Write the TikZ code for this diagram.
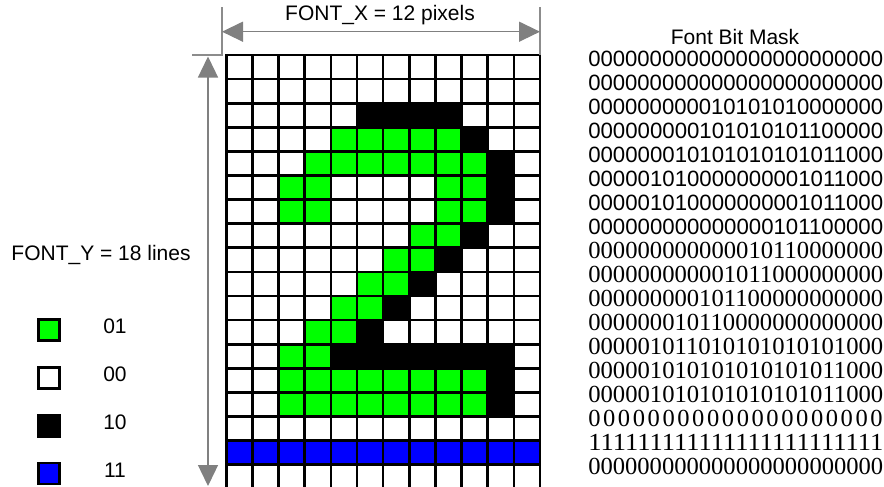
\documentclass[tikz,border=0pt]{standalone}
\usepackage{fontspec}
\setmainfont{Liberation Sans}
\newfontfamily\maskserif{Liberation Serif}
\usetikzlibrary{arrows.meta}
\definecolor{pixgreen}{RGB}{0,255,0}
\definecolor{pixblue}{RGB}{0,0,255}
\definecolor{dimgray}{RGB}{128,128,128}
\definecolor{extgray}{RGB}{140,140,140}
\newcommand\gx{226.3}
\newcommand\gw{26.14}
\newcommand\gy{55}
\newcommand\gh{24.1}
\newcommand\pixrun[4]{\fill[#4] ({\gx+(#2-1)*\gw},{\gy+(#1-1)*\gh}) rectangle ({\gx+#3*\gw},{\gy+#1*\gh});}
\newcommand\labfont{\fontsize{15.75pt}{18pt}\selectfont}
\newcommand\masksans{\fontsize{16.6pt}{18pt}\selectfont}
\newcommand\maskser{\maskserif\fontsize{18.4pt}{20pt}\selectfont}
\newcommand\fitline[1]{\resizebox{221.25pt}{\height}{#1}}
\begin{document}
\begin{tikzpicture}[x=0.75pt,y=-0.75pt,
  gridline/.style={line width=2pt, black, line cap=rect},
  dimarrow/.style={draw=dimgray, line width=1pt,
    {Triangle[length=15.75pt,width=15pt]}-{Triangle[length=15.75pt,width=15pt]}},
  extline/.style={draw=extgray, line width=1pt},
  legbox/.style={draw=black, line width=2pt, minimum size=15.75pt, inner sep=0pt},
  lab/.style={font=\labfont, inner sep=0pt},
  msans/.style={font=\masksans, inner sep=0pt, anchor=base west},
  mser/.style={font=\maskser, inner sep=0pt, anchor=base west}]
\useasboundingbox (0,0) rectangle (884,486);
\clip (0,0) rectangle (884,486);

% pixel fills
\pixrun{3}{6}{9}{black}
\pixrun{4}{5}{9}{pixgreen}\pixrun{4}{10}{10}{black}
\pixrun{5}{4}{10}{pixgreen}\pixrun{5}{11}{11}{black}
\pixrun{6}{3}{4}{pixgreen}\pixrun{6}{9}{10}{pixgreen}\pixrun{6}{11}{11}{black}
\pixrun{7}{3}{4}{pixgreen}\pixrun{7}{9}{10}{pixgreen}\pixrun{7}{11}{11}{black}
\pixrun{8}{8}{9}{pixgreen}\pixrun{8}{10}{10}{black}
\pixrun{9}{7}{8}{pixgreen}\pixrun{9}{9}{9}{black}
\pixrun{10}{6}{7}{pixgreen}\pixrun{10}{8}{8}{black}
\pixrun{11}{5}{6}{pixgreen}\pixrun{11}{7}{7}{black}
\pixrun{12}{4}{5}{pixgreen}\pixrun{12}{6}{6}{black}
\pixrun{13}{3}{4}{pixgreen}\pixrun{13}{5}{11}{black}
\pixrun{14}{3}{10}{pixgreen}\pixrun{14}{11}{11}{black}
\pixrun{15}{3}{10}{pixgreen}\pixrun{15}{11}{11}{black}
\pixrun{17}{1}{12}{pixblue}

% grid lines
\foreach \i in {0,...,12}
  \draw[gridline] ({\gx+\i*\gw},\gy) -- ({\gx+\i*\gw},{\gy+18*\gh});
\foreach \j in {0,...,18}
  \draw[gridline] (\gx,{\gy+\j*\gh}) -- ({\gx+12*\gw},{\gy+\j*\gh});

% dimension lines
\coordinate (xl) at (222,31.7);
\coordinate (xr) at (540,31.7);
\coordinate (exlt) at (222,7);
\coordinate (exlb) at (222,55);
\coordinate (exll) at (192,55);
\coordinate (exrt) at (540,7);
\coordinate (exrb) at (540,55);
\coordinate (yt) at (208,56.5);
\coordinate (yb) at (208,486);
\draw[extline] (exlt) -- (exlb) -- (exll);
\draw[extline] (exrt) -- (exrb);
\draw[dimarrow] (xl) -- (xr);
\draw[dimarrow] (yt) -- (yb);

\node[lab, anchor=base] (fontx) at (380,20.7) {FONT\_X = 12 pixels};
\node[lab, anchor=base] (fonty) at (101,260) {FONT\_Y = 18 lines};

% legend
\node[legbox, fill=pixgreen] (lg1) at (49,330) {};
\node[legbox, fill=white] (lg2) at (49,378) {};
\node[legbox, fill=black] (lg3) at (49,426) {};
\node[legbox, fill=pixblue] (lg4) at (49,473.5) {};
\node[lab, anchor=base] (lt1) at (115,333) {01};
\node[lab, anchor=base] (lt2) at (115,381) {00};
\node[lab, anchor=base] (lt3) at (115,429) {10};
\node[lab, anchor=base] (lt4) at (115,477) {11};

% bit mask
\node[lab, anchor=base] (mtitle) at (735,44) {Font Bit Mask};
\node[msans] (m1) at (588,66) {\fitline{000000000000000000000000}};
\node[msans] (m2) at (588,90) {\fitline{000000000000000000000000}};
\node[msans] (m3) at (588,114) {\fitline{000000000010101010000000}};
\node[msans] (m4) at (588,138) {\fitline{000000000101010101100000}};
\node[msans] (m5) at (588,162) {\fitline{000000010101010101011000}};
\node[msans] (m6) at (588,186) {\fitline{000001010000000001011000}};
\node[msans] (m7) at (588,210) {\fitline{000001010000000001011000}};
\node[msans] (m8) at (588,234) {\fitline{000000000000000101100000}};
\node[mser] (m9) at (588,258) {\fitline{000000000000010110000000}};
\node[mser] (m10) at (588,282) {\fitline{000000000001011000000000}};
\node[mser] (m11) at (588,306) {\fitline{000000000101100000000000}};
\node[mser] (m12) at (588,330) {\fitline{000000010110000000000000}};
\node[mser] (m13) at (588,354) {\fitline{000001011010101010101000}};
\node[mser] (m14) at (588,378) {\fitline{000001010101010101011000}};
\node[mser] (m15) at (588,402) {\fitline{000001010101010101011000}};
\foreach \k in {0,...,19}
  \node[mser] (m16-\k) at ({588+\k*14.85},426) {0};
\node[mser] (m17) at (588,450) {\fitline{111111111111111111111111}};
\node[mser] (m18) at (588,474) {\fitline{000000000000000000000000}};
\end{tikzpicture}
\end{document}
